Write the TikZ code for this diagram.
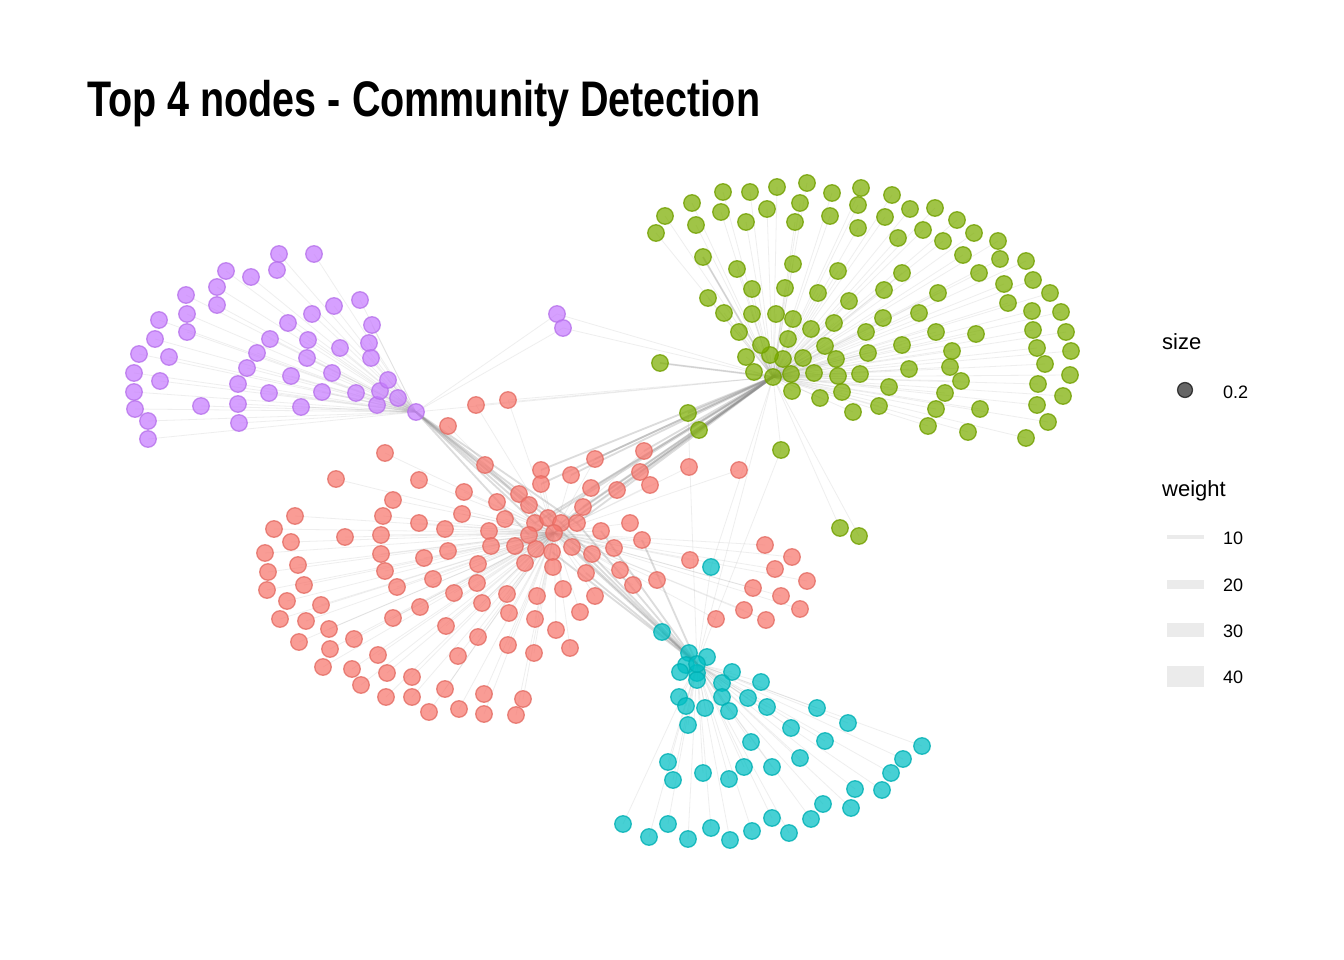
\documentclass[tikz,border=0pt]{standalone}
\usepackage{fontspec}
\setmainfont{Liberation Sans}
\usepackage{graphicx}
\definecolor{cred}{HTML}{F8766D}
\definecolor{cgreen}{HTML}{7CAE00}
\definecolor{ccyan}{HTML}{00BFC4}
\definecolor{cpurple}{HTML}{C77CFF}
\definecolor{legkey}{HTML}{EBEBEB}
\pgfdeclarelayer{bgl}
\pgfdeclarelayer{edges}
\pgfsetlayers{bgl,edges,main}
\def\purplelist{279/254, 314/254, 277/270, 226/271, 251/277, 217/287, 217/305, 186/295, 187/314, 187/332, 159/320, 155/339, 139/354, 169/357, 134/373, 134/392, 160/381, 135/409, 148/421, 148/439, 201/406, 238/384, 238/404, 239/423, 247/368, 257/353, 270/339, 288/323, 312/314, 334/306, 360/300, 372/325, 308/340, 307/358, 340/348, 369/343, 371/358, 291/376, 269/393, 301/407, 322/392, 332/373, 356/393, 377/405, 380/391, 388/380, 398/398}
\def\purplefar{557/314, 563/328}
\def\greenlist{807/183, 777/187, 750/192, 723/192, 692/203, 665/216, 656/233, 721/212, 696/225, 746/222, 767/209, 800/203, 795/222, 832/193, 861/188, 858/205, 830/216, 858/228, 892/195, 910/209, 935/208, 885/217, 923/230, 898/238, 957/220, 974/233, 943/241, 998/241, 963/255, 1000/259, 1026/261, 979/273, 1033/280, 1004/284, 1050/293, 1008/303, 1061/312, 1032/311, 1066/332, 1033/330, 1071/351, 1037/348, 1045/364, 1070/375, 1038/384, 1063/396, 1037/405, 1048/422, 1026/438, 968/432, 928/426, 980/409, 936/409, 945/393, 961/381, 950/367, 952/351, 976/334, 936/332, 938/293, 919/313, 902/273, 884/290, 883/318, 902/345, 909/369, 889/387, 879/406, 853/412, 820/398, 842/392, 860/374, 868/353, 866/332, 849/301, 838/271, 818/293, 834/323, 825/346, 836/359, 838/376, 814/373, 811/329, 803/358, 792/391, 791/374, 783/359, 788/339, 793/319, 785/288, 793/264, 776/314, 770/355, 761/345, 746/357, 754/372, 739/332, 724/313, 752/314, 752/289, 737/269, 708/298, 703/257, 660/363, 688/413, 699/430, 781/450, 840/528, 859/536}
\def\redlist{448/426, 476/405, 508/400, 385/453, 336/479, 419/480, 485/465, 541/470, 541/484, 464/492, 519/494, 497/502, 529/505, 393/500, 383/516, 462/514, 419/523, 505/519, 445/529, 489/531, 535/523, 548/518, 561/523, 529/535, 295/516, 274/529, 291/542, 345/537, 381/535, 381/554, 265/553, 298/565, 268/572, 385/571, 424/558, 448/551, 491/546, 515/546, 536/549, 552/552, 525/563, 553/567, 478/564, 433/579, 397/587, 304/585, 267/590, 287/601, 321/605, 454/593, 477/583, 507/594, 537/596, 563/589, 420/607, 482/603, 509/613, 535/619, 556/630, 280/619, 306/621, 329/629, 393/618, 446/626, 478/637, 508/645, 534/653, 299/642, 330/649, 354/639, 458/656, 323/667, 352/669, 378/655, 387/673, 412/677, 361/685, 445/689, 484/694, 523/699, 386/697, 412/697, 429/712, 459/709, 484/714, 516/715, 644/451, 595/459, 640/472, 571/475, 591/488, 617/490, 650/485, 689/467, 739/470, 583/507, 577/523, 630/523, 601/531, 642/540, 572/547, 614/548, 592/554, 586/573, 620/570, 633/585, 657/580, 690/560, 595/596, 580/612, 570/648, 765/545, 792/557, 775/569, 807/581, 753/588, 781/596, 744/610, 800/609, 766/620, 716/619}
\def\cyanlist{689/653, 707/657, 686/665, 680/672, 697/673, 697/680, 732/672, 761/682, 722/683, 679/697, 722/697, 686/706, 705/708, 729/711, 748/698, 767/707, 817/708, 848/723, 791/728, 688/725, 751/742, 825/741, 922/746, 903/759, 891/773, 882/790, 855/789, 800/758, 772/767, 744/767, 729/779, 703/773, 668/762, 673/780, 823/804, 851/808, 811/819, 772/818, 789/833, 752/831, 730/840, 711/828, 688/839, 668/824, 649/837, 623/824, 711/567, 662/632}
\tikzset{
  vnode/.style={circle, inner sep=0pt, minimum size=16.5pt, line width=1.3pt, fill opacity=0.72, draw opacity=0.8},
  rnode/.style={vnode, fill=cred, draw=cred!92!black},
  gnode/.style={vnode, fill=cgreen, draw=cgreen!92!black},
  cnode/.style={vnode, fill=ccyan, draw=ccyan!92!black},
  pnode/.style={vnode, fill=cpurple, draw=cpurple!92!black},
  edge/.style={draw=black!45, line width=0.8pt, draw opacity=0.14},
  bundle/.style={draw=black!45, line width=1.8pt, draw opacity=0.3},
  legtext/.style={inner sep=0pt, anchor=base west, font=\fontsize{22}{26}\selectfont},
  labtext/.style={inner sep=0pt, anchor=base west, font=\fontsize{18}{22}\selectfont},
}
\begin{document}
\begin{tikzpicture}[x=1pt, y=-1pt]
\begin{pgfonlayer}{bgl}
\fill[white] (0,0) rectangle (1344,960);
\end{pgfonlayer}
\useasboundingbox (0,0) rectangle (1344,960);
% title
\node[inner sep=0pt, anchor=base west] (title) at (87,117) {\scalebox{0.79}[1]{\fontsize{50}{60}\selectfont\bfseries Top 4 nodes - Community Detection}};
% nodes
\foreach [count=\i] \x/\y in \purplelist {\node[pnode] (p\i) at (\x,\y) {};}
\foreach [count=\i] \x/\y in \purplefar {\node[pnode] (pf\i) at (\x,\y) {};}
\foreach [count=\i] \x/\y in \greenlist {\node[gnode] (g\i) at (\x,\y) {};}
\foreach [count=\i] \x/\y in \redlist {\node[rnode] (r\i) at (\x,\y) {};}
\foreach [count=\i] \x/\y in \cyanlist {\node[cnode] (c\i) at (\x,\y) {};}
\node[pnode] (P0) at (416,412) {};
\node[gnode] (G0) at (773,377) {};
\node[rnode] (R0) at (554,533) {};
\node[cnode] (C0) at (697,664) {};
% edges
\begin{pgfonlayer}{edges}
\foreach [count=\i] \x/\y in \purplelist {\draw[edge] (P0.center) -- (p\i.center);}
\foreach [count=\i] \x/\y in \greenlist {\draw[edge] (G0.center) -- (g\i.center);}
\foreach [count=\i] \x/\y in \redlist {\draw[edge] (R0.center) -- (r\i.center);}
\foreach [count=\i] \x/\y in \cyanlist {\draw[edge] (C0.center) -- (c\i.center);}
\foreach \i in {1,2} {\draw[edge] (P0.center) -- (pf\i.center); \draw[edge] (G0.center) -- (pf\i.center);}
% bundles purple hub -> red core
\foreach \n in {r22,r23,r24,R0,r21,r97,r13} {\draw[bundle] (P0.center) -- (\n.center);}
% bundles red core -> green hub
\foreach \n in {r8,r9,r88,r89,r90,r91,r92,r87,r96,r97,r22,r23,r21,R0,g104,g105} {\draw[bundle] (G0.center) -- (\n.center);}
% bundles red core -> cyan hub
\foreach \n in {r97,r99,r101,r22,r23,R0,r40,r100,r104,c48} {\draw[bundle] (C0.center) -- (\n.center);}
\draw[bundle] (G0.center) -- (g103.center);
\draw[bundle] (G0.center) -- (g106.center);
\draw[edge] (P0.center) -- (G0.center);
\draw[edge] (G0.center) -- (C0.center);
\draw[edge] (G0.center) -- (c47.center);
\draw[edge] (C0.center) -- (g107.center);
\draw[edge] (g105.center) -- (C0.center);
\draw[edge] (r2.center) -- (G0.center);
\draw[edge] (r3.center) -- (G0.center);
\end{pgfonlayer}
% legend
\node[legtext] (lsize) at (1162,349) {size};
\node[circle, inner sep=0pt, minimum size=15pt, fill=black, fill opacity=0.6, draw=black, draw opacity=0.7, line width=1.2pt] (lkey) at (1185,390) {};
\node[labtext] (l02) at (1223,398) {0.2};
\node[legtext] (lweight) at (1162,496) {weight};
\node[fill=legkey, inner sep=0pt, minimum width=37pt, minimum height=4pt] (k10) at (1185.5,537) {};
\node[fill=legkey, inner sep=0pt, minimum width=37pt, minimum height=9pt] (k20) at (1185.5,584) {};
\node[fill=legkey, inner sep=0pt, minimum width=37pt, minimum height=14pt] (k30) at (1185.5,630) {};
\node[fill=legkey, inner sep=0pt, minimum width=37pt, minimum height=21pt] (k40) at (1185.5,676) {};
\node[labtext] (l10) at (1223,544) {10};
\node[labtext] (l20) at (1223,591) {20};
\node[labtext] (l30) at (1223,637) {30};
\node[labtext] (l40) at (1223,683) {40};
\end{tikzpicture}
\end{document}
